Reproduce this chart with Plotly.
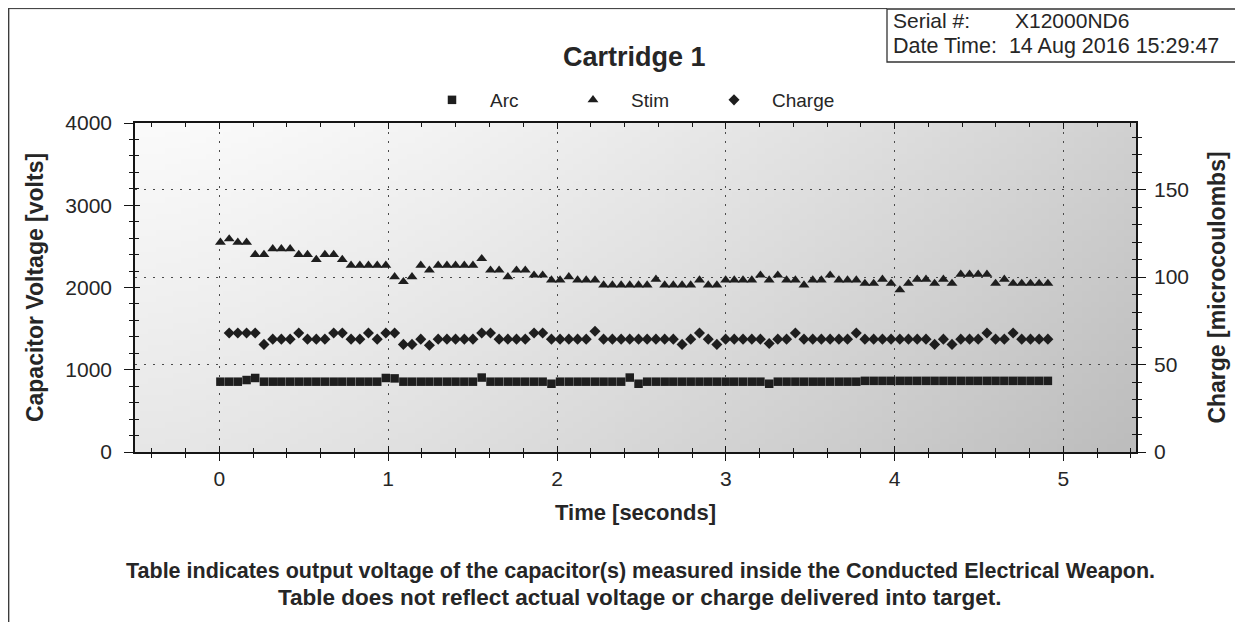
import plotly.graph_objects as go
import zlib, struct, base64

# ---------------- data ----------------
time_s = [0.006, 0.058, 0.109, 0.161, 0.212, 0.264, 0.316, 0.367, 0.419, 0.470,
          0.522, 0.574, 0.625, 0.677, 0.728, 0.780, 0.832, 0.883, 0.935, 0.986,
          1.038, 1.090, 1.141, 1.193, 1.244, 1.296, 1.348, 1.399, 1.451, 1.502,
          1.554, 1.606, 1.657, 1.709, 1.760, 1.812, 1.864, 1.915, 1.967, 2.018,
          2.070, 2.122, 2.173, 2.225, 2.276, 2.328, 2.380, 2.431, 2.483, 2.534,
          2.586, 2.638, 2.689, 2.741, 2.792, 2.844, 2.896, 2.947, 2.999, 3.050,
          3.102, 3.154, 3.205, 3.257, 3.308, 3.360, 3.412, 3.463, 3.515, 3.566,
          3.618, 3.670, 3.721, 3.773, 3.824, 3.876, 3.928, 3.979, 4.031, 4.082,
          4.134, 4.186, 4.237, 4.289, 4.340, 4.392, 4.444, 4.495, 4.547, 4.598,
          4.650, 4.702, 4.753, 4.805, 4.856, 4.908]

arc_v = [855, 855, 855, 875, 900, 855, 855, 855, 855, 855,
         855, 855, 855, 855, 855, 855, 855, 855, 855, 900,
         895, 855, 855, 855, 855, 855, 855, 855, 855, 855,
         905, 855, 855, 855, 855, 855, 855, 855, 830, 855,
         855, 855, 855, 855, 855, 855, 855, 905, 830, 855,
         855, 855, 855, 855, 855, 855, 855, 855, 855, 855,
         855, 855, 855, 830, 855, 855, 855, 855, 855, 855,
         855, 855, 855, 855, 865, 865, 865, 865, 865, 865,
         865, 865, 865, 865, 865, 865, 865, 865, 865, 865,
         865, 865, 865, 865, 865, 865]

stim_v = [2550, 2590, 2550, 2550, 2400, 2400, 2470, 2470, 2470, 2400,
          2400, 2340, 2400, 2400, 2340, 2270, 2270, 2270, 2270, 2270,
          2130, 2070, 2130, 2270, 2210, 2270, 2270, 2270, 2270, 2270,
          2350, 2210, 2210, 2130, 2210, 2210, 2150, 2150, 2090, 2090,
          2130, 2090, 2090, 2090, 2030, 2030, 2030, 2030, 2030, 2030,
          2100, 2030, 2030, 2030, 2030, 2090, 2030, 2030, 2090, 2090,
          2090, 2090, 2150, 2090, 2150, 2090, 2090, 2030, 2090, 2090,
          2150, 2090, 2090, 2090, 2050, 2050, 2100, 2050, 1970, 2050,
          2100, 2100, 2050, 2100, 2050, 2160, 2160, 2160, 2160, 2050,
          2100, 2050, 2050, 2050, 2050, 2050]

charge_uc = [None, 68, 68, 68, 68, 61.5, 64.5, 64.5, 64.5, 68,
             64.5, 64.5, 64.5, 68, 68, 64.5, 64.5, 68, 64.5, 68,
             68, 61.5, 61.5, 64.5, 61, 64.5, 64.5, 64.5, 64.5, 64.5,
             68, 68, 64.5, 64.5, 64.5, 64.5, 68, 68, 64.5, 64.5,
             64.5, 64.5, 64.5, 69, 64.5, 64.5, 64.5, 64.5, 64.5, 64.5,
             64.5, 64.5, 64.5, 61.5, 64.5, 68, 64.5, 61.5, 64.5, 64.5,
             64.5, 64.5, 64.5, 62, 64.5, 64.5, 68, 64.5, 64.5, 64.5,
             64.5, 64.5, 64.5, 68, 64.5, 64.5, 64.5, 64.5, 64.5, 64.5,
             64.5, 64.5, 61.5, 64.5, 61.5, 64.5, 64.5, 64.5, 68, 64.5,
             64.5, 68, 64.5, 64.5, 64.5, 64.5]

series_names = ["Arc", "Stim", "Charge"]
x_ticks = [0, 1, 2, 3, 4, 5]
volt_ticks = [0, 1000, 2000, 3000, 4000]
charge_ticks = [0, 50, 100, 150]

x_range = [-0.5, 5.43]
volt_range = [0, 4000]
charge_range = [0, 188]

# ---------------- style ----------------
FONT = "Liberation Sans, Arial, sans-serif"
INK = "#1e1e1e"
TXT = "#262626"
AX = "#151515"
OFF = 8                      # page offset of the figure (default body margin)
W, H = 1243 - OFF, 625 - OFF
PLOT_L, PLOT_R, PLOT_T, PLOT_B = 135, 1136, 123, 452   # page pixels of the plot area
ML, MR, MT, MB = PLOT_L - OFF, W - (PLOT_R - OFF), PLOT_T - OFF, H - (PLOT_B - OFF)
PW, PH = W - ML - MR, H - MT - MB


def px(xp):
    return (xp - PLOT_L) / PW


def py(yp):
    return (PLOT_B - yp) / PH


# scanned-paper like grey background (decoration only)
def bg_uri(w=120, h=60):
    rows = []
    for j in range(h):
        v = j / (h - 1)
        row = bytearray([0])
        for i in range(w):
            u = i / (w - 1)
            g = 251 - 42 * (u ** 1.4) - 20 * v
            row.append(max(0, min(255, int(g))))
        rows.append(bytes(row))
    raw = b"".join(rows)

    def chunk(t, d):
        c = struct.pack(">I", len(d)) + t + d
        return c + struct.pack(">I", zlib.crc32(t + d) & 0xFFFFFFFF)

    png = (b"\x89PNG\r\n\x1a\n"
           + chunk(b"IHDR", struct.pack(">IIBBBBB", w, h, 8, 0, 0, 0, 0))
           + chunk(b"IDAT", zlib.compress(raw))
           + chunk(b"IEND", b""))
    return "data:image/png;base64," + base64.b64encode(png).decode()


fig = go.Figure()
fig.add_trace(go.Scatter(x=time_s, y=arc_v, name=series_names[0], mode="markers",
                         marker=dict(symbol="square", size=8.5, color=INK),
                         xaxis="x", yaxis="y"))
fig.add_trace(go.Scatter(x=time_s, y=stim_v, name=series_names[1], mode="markers",
                         marker=dict(symbol="triangle-up", size=9.5, color=INK),
                         xaxis="x", yaxis="y"))
fig.add_trace(go.Scatter(x=time_s, y=charge_uc, name=series_names[2], mode="markers",
                         marker=dict(symbol="diamond", size=8.5, color=INK),
                         xaxis="x", yaxis="y2"))
# empty helpers so that the inner tick overlays are drawn
fig.add_trace(go.Scatter(x=[None], y=[None], xaxis="x2", yaxis="y", showlegend=False, hoverinfo="skip"))
fig.add_trace(go.Scatter(x=[None], y=[None], xaxis="x", yaxis="y3", showlegend=False, hoverinfo="skip"))
fig.add_trace(go.Scatter(x=[None], y=[None], xaxis="x", yaxis="y4", showlegend=False, hoverinfo="skip"))

tickfont = dict(family=FONT, size=21, color=TXT)
xtitlefont = dict(family=FONT, size=22, color=TXT, weight="bold")
ytitlefont = dict(family=FONT, size=23, color=TXT, weight="bold")
grid = dict(showgrid=True, gridcolor="#4a4a4a", gridwidth=1.4, griddash="2px,7px")

fig.update_layout(
    width=W, height=H,
    margin=dict(l=ML, r=MR, t=MT, b=MB, autoexpand=False),
    paper_bgcolor="white", plot_bgcolor="white",
    font=dict(family=FONT, color=TXT),
    showlegend=True,
    legend=dict(orientation="h", x=px(414), xanchor="left", y=py(100), yanchor="middle",
                font=dict(family=FONT, size=19, color=TXT), bgcolor="rgba(0,0,0,0)",
                itemwidth=66, entrywidth=60, entrywidthmode="pixels", traceorder="normal"),
    xaxis=dict(range=x_range, anchor="y", tickvals=x_ticks, ticks="outside", ticklen=7,
               tickwidth=1.4, tickcolor=AX, showline=True, linecolor=AX, linewidth=1.6,
               mirror=True, zeroline=False, tickfont=tickfont,
               minor=dict(dtick=0.2, tick0=0, ticks="outside", ticklen=4, tickwidth=1, tickcolor=AX,
                          showgrid=False),
               title=dict(text="Time [seconds]", font=xtitlefont, standoff=16),
               automargin=False, **grid),
    xaxis2=dict(range=x_range, overlaying="x", anchor="y", side="bottom", tickvals=x_ticks,
                ticks="inside", ticklen=6, tickwidth=1.4, tickcolor=AX, showticklabels=False,
                showgrid=False, zeroline=False, showline=False, mirror="ticks",
                minor=dict(dtick=0.2, tick0=0, ticks="inside", ticklen=4, tickwidth=1, tickcolor=AX,
                           showgrid=False)),
    yaxis=dict(range=volt_range, anchor="x", side="left", tickvals=volt_ticks, ticks="outside",
               ticklen=9, tickwidth=1.4, tickcolor=AX, showline=True, linecolor=AX, linewidth=1.6,
               showgrid=False, zeroline=False, tickfont=tickfont, ticklabelstandoff=8,
               minor=dict(dtick=200, tick0=0, ticks="outside", ticklen=4, tickwidth=1, tickcolor=AX),
               title=dict(text="Capacitor Voltage [volts]", font=ytitlefont, standoff=15),
               automargin=False),
    yaxis3=dict(range=volt_range, overlaying="y", anchor="x", side="left", tickvals=volt_ticks,
                ticks="inside", ticklen=5, tickwidth=1.4, tickcolor=AX, showticklabels=False,
                showgrid=False, zeroline=False, showline=False,
                minor=dict(dtick=200, tick0=0, ticks="inside", ticklen=4, tickwidth=1, tickcolor=AX)),
    yaxis2=dict(range=charge_range, overlaying="y", anchor="x", side="right", tickvals=charge_ticks,
                ticks="outside", ticklen=8, tickwidth=1.4, tickcolor=AX, showline=True, linecolor=AX,
                linewidth=1.6, zeroline=False, tickfont=tickfont, ticklabelstandoff=4,
                minor=dict(dtick=10, tick0=0, ticks="outside", ticklen=4, tickwidth=1, tickcolor=AX,
                           showgrid=False),
                title=dict(text="Charge [microcoulombs]", font=ytitlefont, standoff=21),
                automargin=False, **grid),
    yaxis4=dict(range=charge_range, overlaying="y", anchor="x", side="right", tickvals=charge_ticks,
                ticks="inside", ticklen=5, tickwidth=1.4, tickcolor=AX, showticklabels=False,
                showgrid=False, zeroline=False, showline=False,
                minor=dict(dtick=10, tick0=0, ticks="inside", ticklen=4, tickwidth=1, tickcolor=AX)),
    images=[dict(source=bg_uri(), xref="paper", yref="paper", x=0, y=1, sizex=1, sizey=1,
                 xanchor="left", yanchor="top", sizing="stretch", layer="below")],
)

# title
fig.add_annotation(text="<b>Cartridge 1</b>", xref="paper", yref="paper", x=px(634), y=py(57),
                   showarrow=False, font=dict(family=FONT, size=27, color=TXT), xanchor="center",
                   yanchor="middle")

# serial box
fig.add_shape(type="rect", xref="paper", yref="paper", x0=px(887), x1=px(1250), y0=py(62), y1=py(9),
              line=dict(color="#333", width=1.3), fillcolor="rgba(0,0,0,0)")
fig.add_annotation(text="Serial #:", xref="paper", yref="paper", x=px(891), y=py(21), xanchor="left",
                   yanchor="middle", showarrow=False, font=dict(family=FONT, size=21, color=TXT))
fig.add_annotation(text="X12000ND6", xref="paper", yref="paper", x=px(1013), y=py(21), xanchor="left",
                   yanchor="middle", showarrow=False, font=dict(family=FONT, size=21, color=TXT))
fig.add_annotation(text="Date Time:  14 Aug 2016 15:29:47", xref="paper", yref="paper", x=px(891),
                   y=py(46), xanchor="left", yanchor="middle", showarrow=False,
                   font=dict(family=FONT, size=21.5, color=TXT))

# page frame
fig.add_shape(type="line", xref="paper", yref="paper", x0=px(8.7), x1=px(8.7), y0=py(8.6), y1=py(622),
              line=dict(color="#333", width=1.3))
fig.add_shape(type="line", xref="paper", yref="paper", x0=px(8), x1=px(887), y0=py(8.6), y1=py(8.6),
              line=dict(color="#333", width=1.0))

# footer
fig.add_annotation(text="<b>Table indicates output voltage of the capacitor(s) measured inside the Conducted Electrical Weapon.</b>",
                   xref="paper", yref="paper", x=px(640), y=py(571), showarrow=False,
                   xanchor="center", yanchor="middle", font=dict(family=FONT, size=21.5, color=TXT))
fig.add_annotation(text="<b>Table does not reflect actual voltage or charge delivered into target.</b>",
                   xref="paper", yref="paper", x=px(640), y=py(597), showarrow=False,
                   xanchor="center", yanchor="middle", font=dict(family=FONT, size=22.5, color=TXT))

fig.write_html("out.html")
